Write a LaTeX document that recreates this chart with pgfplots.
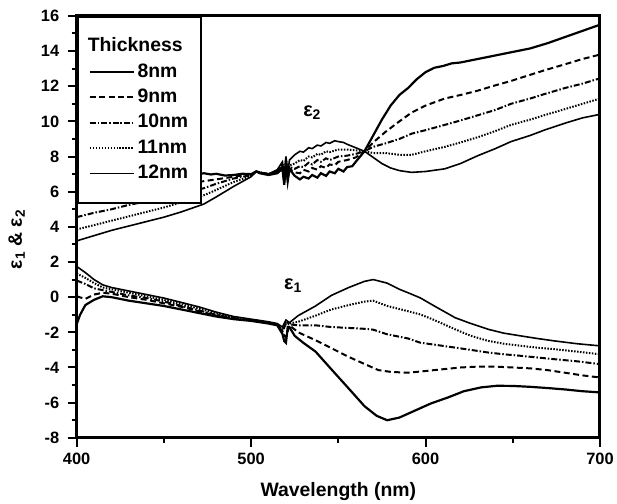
\documentclass[border=0pt]{standalone}
\usepackage{fontspec}
\setmainfont{Liberation Sans}
\usepackage{pgfplots}
\pgfplotsset{compat=1.18}
\begin{document}
\begin{tikzpicture}
\begin{axis}[
  scale only axis, width=526pt, height=424pt,
  xmin=400, xmax=700, ymin=-8, ymax=16,
  xtick={400,500,600,700}, xticklabels={400,500,600,700},
  ytick={-8,-6,-4,-2,0,2,4,6,8,10,12,14,16},
  yticklabels={-8,-6,-4,-2,0,2,4,6,8,10,12,14,16},
  minor x tick num=1, minor y tick num=1,
  tick align=outside, xtick pos=bottom, ytick pos=left,
  major tick length=9pt, minor tick length=5pt,
  major tick style={black, line width=2pt},
  minor tick style={black, line width=2pt},
  axis line style={line width=3pt},
  tick label style={font=\fontsize{16.5}{17}\selectfont\bfseries},
  yticklabel style={anchor=east, xshift=-5pt},
  xticklabel style={anchor=north, yshift=-3pt},
  label style={font=\fontsize{19.5}{21}\selectfont\bfseries},
  xlabel={Wavelength (nm)},
  xlabel style={at={(axis description cs:0.5,-0.097)}, anchor=north},
  ylabel={ε\textsubscript{1} \& ε\textsubscript{2}},
  ylabel style={at={(axis description cs:-0.092,0.47)}, anchor=south},
  legend cell align=left,
  legend style={at={(0,1)}, anchor=north west, draw=black, line width=2pt, fill=white,
    inner xsep=11pt, inner ysep=19pt, row sep=4pt,
    font=\fontsize{19.5}{21}\selectfont\bfseries,
    nodes={inner sep=2pt, text height=14pt, text depth=3.5pt}},
  legend image code/.code={\draw[#1] (0pt,0pt) -- (45pt,0pt);},
  s8/.style={black, line width=2.2pt, solid},
  s9/.style={black, line width=2pt, dash pattern=on 6pt off 3.5pt},
  s10/.style={black, line width=2pt, dash pattern=on 6pt off 2pt on 1.5pt off 2pt},
  s11/.style={black, line width=2pt, dash pattern=on 1.5pt off 1.5pt},
  s12/.style={black, line width=1.6pt, solid},
]
\addlegendimage{empty legend}
\addlegendentry{\hspace*{-50pt}Thickness}

% ---- epsilon 2 ----
\addplot[s8] coordinates {
(400,6.2)(410,6.4)(420,6.55)(430,6.7)(440,6.8)(450,6.9)(460,6.95)(470,7.0)(473,7.05)(477,6.98)(480,7.02)(485,6.92)(490,6.95)(495,7.02)(500,7.0)(503,7.15)(505,7.05)(510,6.95)(515,7.05)(518,7.3)(519,6.4)(520,7.6)(521,6.6)(522,7.3)(525,6.9)(528,6.7)(530,6.85)(533,6.75)(535,6.95)(538,6.8)(540,7.05)(543,6.9)(545,7.15)(548,7.05)(550,7.3)(553,7.15)(555,7.4)(558,7.45)(560,7.7)(565,8.3)(570,9.2)(575,10.1)(580,10.9)(585,11.5)(590,11.9)(595,12.4)(600,12.8)(605,13.05)(610,13.15)(615,13.3)(620,13.35)(630,13.55)(640,13.75)(650,13.95)(660,14.15)(670,14.45)(680,14.8)(690,15.15)(700,15.5)};
\addlegendentry{8nm}
\addplot[s9] coordinates {
(400,5.6)(420,5.9)(440,6.15)(460,6.4)(473,6.6)(480,6.7)(490,6.85)(500,7.0)(503,7.15)(505,7.1)(510,7.0)(515,7.1)(518,7.4)(519,6.5)(520,7.7)(521,6.7)(522,7.3)(525,7.1)(528,7.05)(530,7.25)(533,7.15)(535,7.35)(538,7.25)(540,7.45)(543,7.35)(545,7.55)(548,7.5)(550,7.7)(555,7.8)(560,7.95)(565,8.3)(570,8.8)(577,9.4)(585,10.0)(592,10.5)(600,10.9)(611,11.3)(620,11.5)(630,11.75)(640,12.05)(649,12.3)(660,12.65)(668,12.9)(680,13.25)(690,13.55)(700,13.8)};
\addlegendentry{9nm}
\addplot[s10] coordinates {
(400,4.55)(410,4.8)(420,5.0)(430,5.25)(440,5.45)(450,5.7)(460,5.9)(473,6.2)(480,6.45)(490,6.75)(500,6.95)(503,7.15)(505,7.1)(510,7.0)(515,7.15)(518,7.5)(519,6.6)(520,7.8)(521,6.8)(522,7.4)(525,7.3)(528,7.45)(530,7.4)(533,7.65)(535,7.55)(538,7.8)(540,7.7)(543,7.9)(545,7.8)(550,8.0)(555,8.05)(560,8.15)(565,8.3)(570,8.55)(577,8.75)(585,9.0)(592,9.3)(600,9.5)(611,9.8)(620,10.05)(630,10.35)(640,10.65)(649,11.0)(660,11.3)(668,11.55)(680,11.9)(690,12.15)(700,12.45)};
\addlegendentry{10nm}
\addplot[s11] coordinates {
(400,3.85)(410,4.1)(420,4.35)(430,4.6)(440,4.85)(450,5.1)(460,5.4)(473,5.8)(480,6.1)(490,6.55)(500,6.9)(503,7.15)(505,7.1)(510,7.0)(515,7.2)(518,7.6)(519,6.7)(520,7.9)(521,6.9)(522,7.5)(525,7.6)(528,7.8)(530,7.75)(533,8.0)(535,7.95)(538,8.15)(540,8.1)(543,8.3)(545,8.25)(550,8.4)(555,8.4)(560,8.35)(565,8.3)(570,8.2)(577,8.2)(585,8.1)(592,8.1)(600,8.3)(611,8.55)(620,8.8)(630,9.1)(640,9.45)(649,9.8)(660,10.1)(668,10.35)(680,10.7)(690,11.0)(700,11.3)};
\addlegendentry{11nm}
\addplot[s12] coordinates {
(400,3.2)(410,3.5)(420,3.8)(430,4.05)(440,4.3)(450,4.55)(460,4.85)(473,5.3)(480,5.7)(490,6.3)(500,6.85)(503,7.15)(505,7.1)(510,7.0)(515,7.25)(518,7.7)(519,6.8)(520,8.0)(521,7.0)(522,7.8)(525,8.1)(528,8.3)(530,8.25)(533,8.5)(535,8.45)(538,8.65)(540,8.6)(543,8.8)(545,8.75)(548,8.9)(550,8.85)(553,8.8)(555,8.7)(560,8.5)(565,8.3)(570,7.95)(575,7.6)(580,7.35)(585,7.2)(592,7.1)(600,7.15)(611,7.3)(620,7.6)(630,8.05)(640,8.45)(649,8.85)(660,9.2)(668,9.5)(680,9.9)(690,10.2)(700,10.4)};
\addlegendentry{12nm}

% ---- epsilon 1 ----
\addplot[s8, forget plot] coordinates {
(400,-1.55)(402,-1.0)(405,-0.45)(410,-0.15)(415,0.05)(420,0.0)(430,-0.2)(440,-0.35)(450,-0.5)(460,-0.7)(470,-0.9)(480,-1.1)(490,-1.25)(500,-1.35)(510,-1.5)(515,-1.6)(518,-2.1)(519,-2.5)(520,-2.6)(521,-1.7)(522,-1.7)(525,-2.2)(530,-2.6)(537,-3.1)(546,-4.1)(556,-5.2)(565,-6.2)(572,-6.75)(578,-7.0)(585,-6.85)(594,-6.45)(603,-6.05)(613,-5.7)(622,-5.35)(632,-5.13)(641,-5.04)(650,-5.05)(660,-5.1)(670,-5.17)(680,-5.25)(690,-5.35)(700,-5.42)};
\addplot[s9, forget plot] coordinates {
(400,0.05)(405,-0.1)(410,0.15)(415,0.25)(420,0.2)(430,0.0)(440,-0.15)(450,-0.35)(460,-0.55)(470,-0.8)(480,-1.05)(490,-1.2)(500,-1.3)(510,-1.45)(515,-1.55)(518,-2.0)(520,-2.3)(522,-1.6)(527,-2.0)(537,-2.45)(546,-2.9)(556,-3.4)(565,-3.8)(573,-4.15)(580,-4.25)(590,-4.3)(600,-4.2)(610,-4.1)(620,-4.0)(630,-3.95)(640,-3.95)(650,-4.0)(660,-4.05)(670,-4.15)(680,-4.3)(690,-4.45)(700,-4.57)};
\addplot[s10, forget plot] coordinates {
(400,0.95)(405,0.75)(410,0.5)(415,0.4)(420,0.3)(430,0.1)(440,-0.05)(450,-0.25)(460,-0.5)(470,-0.75)(480,-1.0)(490,-1.2)(500,-1.3)(510,-1.45)(515,-1.55)(518,-1.95)(520,-1.5)(522,-1.55)(527,-1.6)(537,-1.6)(546,-1.7)(556,-1.75)(565,-1.8)(570,-1.85)(578,-2.11)(590,-2.35)(597,-2.59)(605,-2.7)(617,-2.87)(626,-3.0)(636,-3.15)(645,-3.25)(655,-3.34)(664,-3.43)(674,-3.53)(687,-3.65)(700,-3.81)};
\addplot[s11, forget plot] coordinates {
(400,1.35)(405,1.1)(410,0.8)(415,0.55)(420,0.45)(430,0.25)(440,0.05)(450,-0.15)(460,-0.4)(470,-0.65)(480,-0.9)(490,-1.15)(500,-1.3)(510,-1.45)(515,-1.55)(518,-1.9)(520,-1.4)(522,-1.5)(527,-1.4)(537,-1.05)(546,-0.7)(556,-0.45)(565,-0.25)(570,-0.2)(578,-0.5)(590,-0.8)(597,-0.98)(605,-1.3)(617,-1.83)(626,-2.2)(636,-2.49)(645,-2.65)(655,-2.77)(664,-2.87)(674,-2.96)(687,-3.1)(700,-3.25)};
\addplot[s12, forget plot] coordinates {
(400,1.75)(405,1.4)(410,1.0)(415,0.7)(420,0.55)(430,0.35)(440,0.15)(450,-0.05)(460,-0.3)(470,-0.55)(480,-0.85)(490,-1.1)(500,-1.25)(510,-1.4)(515,-1.5)(518,-1.7)(520,-1.3)(522,-1.45)(527,-1.05)(537,-0.5)(546,0.1)(556,0.55)(565,0.9)(570,1.0)(578,0.8)(585,0.45)(590,0.25)(597,-0.04)(605,-0.5)(617,-1.17)(626,-1.5)(636,-1.83)(645,-2.05)(655,-2.21)(664,-2.35)(674,-2.49)(687,-2.65)(700,-2.77)};

\node[font=\fontsize{20}{22}\selectfont\bfseries] at (axis cs:535,10.5) {ε\textsubscript{2}};
\node[font=\fontsize{20}{22}\selectfont\bfseries] at (axis cs:524,0.65) {ε\textsubscript{1}};
\coordinate (sw) at (rel axis cs:0,0);
\end{axis}
\path (sw) ++(-77pt,-66pt) rectangle ++(617pt,506pt);
\end{tikzpicture}
\end{document}
